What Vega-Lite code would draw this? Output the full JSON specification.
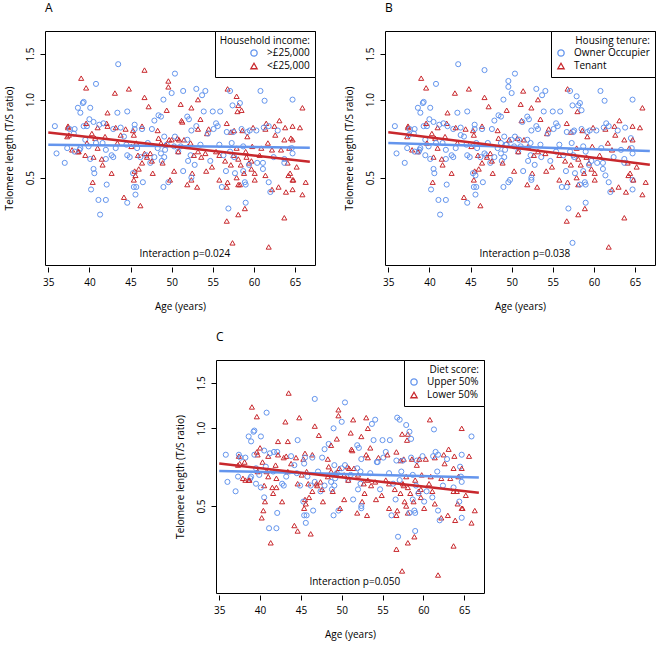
{
  "$schema": "https://vega.github.io/schema/vega-lite/v6.json",
  "background": "white",
  "padding": {"left": 4, "top": 1, "right": 2, "bottom": 3},
  "config": {
    "font": "Open Sans",
    "view": {"stroke": "black", "strokeWidth": 1},
    "axis": {"grid": false, "domain": false, "tickColor": "black", "labelColor": "black", "titleColor": "black", "labelFontSize": 10, "titleFontSize": 10, "titleFontWeight": "normal", "tickSize": 5},
    "axisX": {"offset": 2, "labelPadding": 5, "titlePadding": 14},
    "axisY": {"labelAngle": -90, "labelPadding": 4.5, "titlePadding": 11},
    "legend": {"orient": "top-right", "offset": 0, "padding": 5, "strokeColor": "black", "fillColor": "white", "cornerRadius": 0, "titleFontSize": 10, "titleFontWeight": "normal", "titleColor": "black", "labelColor": "black", "labelFontSize": 10, "titlePadding": 2, "rowPadding": 1, "symbolSize": 40, "symbolStrokeWidth": 1.3, "labelOffset": 8, "titleAnchor": "end"},
    "title": {"fontSize": 12, "fontWeight": "normal", "anchor": "start", "frame": "group", "offset": 16, "color": "black"}
  },
  "datasets": {
    "pts": [
      {"age":43.5,"tl":1.37,"income":">£25,000","tenure":"Owner Occupier","diet":"Lower 50%"},
      {"age":46.7,"tl":1.30,"income":"<£25,000","tenure":"Owner Occupier","diet":"Upper 50%"},
      {"age":50.4,"tl":1.26,"income":">£25,000","tenure":"Owner Occupier","diet":"Upper 50%"},
      {"age":39.0,"tl":1.21,"income":"<£25,000","tenure":"Tenant","diet":"Lower 50%"},
      {"age":49.6,"tl":1.18,"income":"<£25,000","tenure":"Owner Occupier","diet":"Lower 50%"},
      {"age":49.6,"tl":1.12,"income":"<£25,000","tenure":"Owner Occupier","diet":"Lower 50%"},
      {"age":39.6,"tl":1.11,"income":"<£25,000","tenure":"Tenant","diet":"Lower 50%"},
      {"age":40.8,"tl":1.15,"income":">£25,000","tenure":"Owner Occupier","diet":"Upper 50%"},
      {"age":44.8,"tl":1.10,"income":"<£25,000","tenure":"Tenant","diet":"Lower 50%"},
      {"age":56.8,"tl":1.10,"income":"<£25,000","tenure":"Tenant","diet":"Upper 50%"},
      {"age":51.4,"tl":1.08,"income":">£25,000","tenure":"Tenant","diet":"Lower 50%"},
      {"age":53.0,"tl":1.10,"income":">£25,000","tenure":"Owner Occupier","diet":"Lower 50%"},
      {"age":54.1,"tl":1.08,"income":">£25,000","tenure":"Owner Occupier","diet":"Upper 50%"},
      {"age":53.7,"tl":1.04,"income":">£25,000","tenure":"Owner Occupier","diet":"Upper 50%"},
      {"age":57.1,"tl":1.08,"income":">£25,000","tenure":"Owner Occupier","diet":"Upper 50%"},
      {"age":60.8,"tl":1.08,"income":">£25,000","tenure":"Owner Occupier","diet":"Lower 50%"},
      {"age":43.1,"tl":1.06,"income":"<£25,000","tenure":"Tenant","diet":"Lower 50%"},
      {"age":53.2,"tl":1.00,"income":"<£25,000","tenure":"Tenant","diet":"Lower 50%"},
      {"age":50.0,"tl":1.06,"income":">£25,000","tenure":"Owner Occupier","diet":"Upper 50%"},
      {"age":46.7,"tl":1.02,"income":"<£25,000","tenure":"Tenant","diet":"Lower 50%"},
      {"age":57.9,"tl":1.03,"income":"<£25,000","tenure":"Owner Occupier","diet":"Upper 50%"},
      {"age":61.3,"tl":0.99,"income":">£25,000","tenure":"Owner Occupier","diet":"Upper 50%"},
      {"age":64.7,"tl":1.00,"income":">£25,000","tenure":"Owner Occupier","diet":"Lower 50%"},
      {"age":49.0,"tl":1.00,"income":">£25,000","tenure":"Owner Occupier","diet":"Upper 50%"},
      {"age":47.2,"tl":0.94,"income":"<£25,000","tenure":"Tenant","diet":"Lower 50%"},
      {"age":51.1,"tl":0.96,"income":"<£25,000","tenure":"Tenant","diet":"Lower 50%"},
      {"age":58.1,"tl":0.95,"income":"<£25,000","tenure":"Owner Occupier","diet":"Lower 50%"},
      {"age":65.9,"tl":0.93,"income":"<£25,000","tenure":"Tenant","diet":"Upper 50%"},
      {"age":39.3,"tl":0.98,"income":">£25,000","tenure":"Owner Occupier","diet":"Upper 50%"},
      {"age":39.2,"tl":0.97,"income":">£25,000","tenure":"Owner Occupier","diet":"Upper 50%"},
      {"age":38.6,"tl":0.93,"income":">£25,000","tenure":"Owner Occupier","diet":"Upper 50%"},
      {"age":38.9,"tl":0.89,"income":">£25,000","tenure":"Owner Occupier","diet":"Upper 50%"},
      {"age":40.1,"tl":0.93,"income":">£25,000","tenure":"Owner Occupier","diet":"Upper 50%"},
      {"age":42.2,"tl":0.89,"income":"<£25,000","tenure":"Tenant","diet":"Lower 50%"},
      {"age":43.4,"tl":0.89,"income":">£25,000","tenure":"Owner Occupier","diet":"Lower 50%"},
      {"age":44.6,"tl":0.90,"income":">£25,000","tenure":"Owner Occupier","diet":"Upper 50%"},
      {"age":49.4,"tl":0.91,"income":"<£25,000","tenure":"Tenant","diet":"Lower 50%"},
      {"age":52.4,"tl":0.93,"income":"<£25,000","tenure":"Tenant","diet":"Lower 50%"},
      {"age":53.9,"tl":0.90,"income":">£25,000","tenure":"Owner Occupier","diet":"Upper 50%"},
      {"age":55.0,"tl":0.90,"income":">£25,000","tenure":"Owner Occupier","diet":"Upper 50%"},
      {"age":55.9,"tl":0.90,"income":">£25,000","tenure":"Owner Occupier","diet":"Upper 50%"},
      {"age":58.0,"tl":0.90,"income":"<£25,000","tenure":"Tenant","diet":"Lower 50%"},
      {"age":58.5,"tl":0.91,"income":"<£25,000","tenure":"Owner Occupier","diet":"Upper 50%"},
      {"age":57.4,"tl":0.95,"income":">£25,000","tenure":"Owner Occupier","diet":"Lower 50%"},
      {"age":58.3,"tl":0.97,"income":">£25,000","tenure":"Owner Occupier","diet":"Upper 50%"},
      {"age":53.5,"tl":0.84,"income":"<£25,000","tenure":"Tenant","diet":"Lower 50%"},
      {"age":48.4,"tl":0.87,"income":">£25,000","tenure":"Owner Occupier","diet":"Upper 50%"},
      {"age":48.7,"tl":0.86,"income":">£25,000","tenure":"Owner Occupier","diet":"Lower 50%"},
      {"age":40.0,"tl":0.84,"income":">£25,000","tenure":"Owner Occupier","diet":"Lower 50%"},
      {"age":40.5,"tl":0.82,"income":">£25,000","tenure":"Owner Occupier","diet":"Upper 50%"},
      {"age":39.7,"tl":0.79,"income":">£25,000","tenure":"Owner Occupier","diet":"Lower 50%"},
      {"age":39.3,"tl":0.79,"income":">£25,000","tenure":"Owner Occupier","diet":"Upper 50%"},
      {"age":39.6,"tl":0.81,"income":"<£25,000","tenure":"Tenant","diet":"Lower 50%"},
      {"age":41.0,"tl":0.78,"income":"<£25,000","tenure":"Tenant","diet":"Lower 50%"},
      {"age":42.1,"tl":0.81,"income":"<£25,000","tenure":"Tenant","diet":"Upper 50%"},
      {"age":42.2,"tl":0.79,"income":"<£25,000","tenure":"Owner Occupier","diet":"Lower 50%"},
      {"age":41.7,"tl":0.81,"income":">£25,000","tenure":"Owner Occupier","diet":"Upper 50%"},
      {"age":41.2,"tl":0.80,"income":">£25,000","tenure":"Owner Occupier","diet":"Upper 50%"},
      {"age":42.9,"tl":0.77,"income":">£25,000","tenure":"Owner Occupier","diet":"Lower 50%"},
      {"age":43.2,"tl":0.78,"income":"<£25,000","tenure":"Tenant","diet":"Lower 50%"},
      {"age":44.4,"tl":0.77,"income":"<£25,000","tenure":"Tenant","diet":"Lower 50%"},
      {"age":43.8,"tl":0.78,"income":">£25,000","tenure":"Owner Occupier","diet":"Upper 50%"},
      {"age":45.5,"tl":0.80,"income":">£25,000","tenure":"Owner Occupier","diet":"Lower 50%"},
      {"age":45.3,"tl":0.76,"income":"<£25,000","tenure":"Tenant","diet":"Lower 50%"},
      {"age":45.5,"tl":0.77,"income":">£25,000","tenure":"Owner Occupier","diet":"Upper 50%"},
      {"age":46.4,"tl":0.79,"income":"<£25,000","tenure":"Tenant","diet":"Lower 50%"},
      {"age":46.4,"tl":0.77,"income":">£25,000","tenure":"Owner Occupier","diet":"Upper 50%"},
      {"age":47.6,"tl":0.77,"income":">£25,000","tenure":"Owner Occupier","diet":"Upper 50%"},
      {"age":48.3,"tl":0.76,"income":"<£25,000","tenure":"Tenant","diet":"Lower 50%"},
      {"age":47.9,"tl":0.83,"income":">£25,000","tenure":"Owner Occupier","diet":"Upper 50%"},
      {"age":51.2,"tl":0.83,"income":"<£25,000","tenure":"Tenant","diet":"Lower 50%"},
      {"age":51.3,"tl":0.82,"income":"<£25,000","tenure":"Owner Occupier","diet":"Lower 50%"},
      {"age":51.9,"tl":0.86,"income":">£25,000","tenure":"Owner Occupier","diet":"Upper 50%"},
      {"age":52.1,"tl":0.84,"income":">£25,000","tenure":"Owner Occupier","diet":"Upper 50%"},
      {"age":52.4,"tl":0.76,"income":">£25,000","tenure":"Owner Occupier","diet":"Upper 50%"},
      {"age":53.0,"tl":0.79,"income":">£25,000","tenure":"Owner Occupier","diet":"Lower 50%"},
      {"age":54.5,"tl":0.77,"income":"<£25,000","tenure":"Tenant","diet":"Lower 50%"},
      {"age":53.2,"tl":0.77,"income":"<£25,000","tenure":"Owner Occupier","diet":"Lower 50%"},
      {"age":54.3,"tl":0.74,"income":"<£25,000","tenure":"Tenant","diet":"Upper 50%"},
      {"age":54.4,"tl":0.74,"income":">£25,000","tenure":"Owner Occupier","diet":"Upper 50%"},
      {"age":55.1,"tl":0.77,"income":">£25,000","tenure":"Owner Occupier","diet":"Upper 50%"},
      {"age":55.4,"tl":0.81,"income":">£25,000","tenure":"Owner Occupier","diet":"Upper 50%"},
      {"age":55.6,"tl":0.79,"income":">£25,000","tenure":"Owner Occupier","diet":"Lower 50%"},
      {"age":56.7,"tl":0.81,"income":"<£25,000","tenure":"Tenant","diet":"Lower 50%"},
      {"age":57.2,"tl":0.75,"income":"<£25,000","tenure":"Tenant","diet":"Lower 50%"},
      {"age":56.7,"tl":0.75,"income":">£25,000","tenure":"Owner Occupier","diet":"Upper 50%"},
      {"age":57.6,"tl":0.76,"income":"<£25,000","tenure":"Owner Occupier","diet":"Lower 50%"},
      {"age":57.5,"tl":0.75,"income":">£25,000","tenure":"Owner Occupier","diet":"Upper 50%"},
      {"age":58.5,"tl":0.77,"income":">£25,000","tenure":"Owner Occupier","diet":"Upper 50%"},
      {"age":58.6,"tl":0.76,"income":"<£25,000","tenure":"Tenant","diet":"Lower 50%"},
      {"age":59.2,"tl":0.75,"income":">£25,000","tenure":"Owner Occupier","diet":"Upper 50%"},
      {"age":59.2,"tl":0.72,"income":"<£25,000","tenure":"Tenant","diet":"Lower 50%"},
      {"age":59.9,"tl":0.78,"income":"<£25,000","tenure":"Tenant","diet":"Upper 50%"},
      {"age":60.3,"tl":0.76,"income":">£25,000","tenure":"Owner Occupier","diet":"Lower 50%"},
      {"age":61.4,"tl":0.77,"income":"<£25,000","tenure":"Tenant","diet":"Lower 50%"},
      {"age":61.5,"tl":0.81,"income":"<£25,000","tenure":"Owner Occupier","diet":"Upper 50%"},
      {"age":61.8,"tl":0.79,"income":">£25,000","tenure":"Owner Occupier","diet":"Upper 50%"},
      {"age":62.5,"tl":0.79,"income":"<£25,000","tenure":"Tenant","diet":"Lower 50%"},
      {"age":62.9,"tl":0.76,"income":">£25,000","tenure":"Owner Occupier","diet":"Upper 50%"},
      {"age":63.1,"tl":0.83,"income":"<£25,000","tenure":"Tenant","diet":"Lower 50%"},
      {"age":63.8,"tl":0.78,"income":"<£25,000","tenure":"Owner Occupier","diet":"Lower 50%"},
      {"age":64.7,"tl":0.79,"income":"<£25,000","tenure":"Tenant","diet":"Upper 50%"},
      {"age":65.6,"tl":0.78,"income":"<£25,000","tenure":"Tenant","diet":"Lower 50%"},
      {"age":61.2,"tl":0.78,"income":">£25,000","tenure":"Owner Occupier","diet":"Upper 50%"},
      {"age":59.5,"tl":0.76,"income":">£25,000","tenure":"Owner Occupier","diet":"Lower 50%"},
      {"age":35.8,"tl":0.79,"income":">£25,000","tenure":"Owner Occupier","diet":"Upper 50%"},
      {"age":37.4,"tl":0.79,"income":"<£25,000","tenure":"Tenant","diet":"Upper 50%"},
      {"age":37.4,"tl":0.78,"income":"<£25,000","tenure":"Tenant","diet":"Lower 50%"},
      {"age":37.6,"tl":0.77,"income":">£25,000","tenure":"Owner Occupier","diet":"Upper 50%"},
      {"age":37.3,"tl":0.72,"income":"<£25,000","tenure":"Tenant","diet":"Lower 50%"},
      {"age":37.5,"tl":0.73,"income":"<£25,000","tenure":"Owner Occupier","diet":"Lower 50%"},
      {"age":38.2,"tl":0.77,"income":">£25,000","tenure":"Owner Occupier","diet":"Upper 50%"},
      {"age":38.1,"tl":0.74,"income":">£25,000","tenure":"Owner Occupier","diet":"Lower 50%"},
      {"age":38.8,"tl":0.64,"income":">£25,000","tenure":"Owner Occupier","diet":"Upper 50%"},
      {"age":38.9,"tl":0.65,"income":">£25,000","tenure":"Owner Occupier","diet":"Upper 50%"},
      {"age":38.6,"tl":0.63,"income":"<£25,000","tenure":"Tenant","diet":"Lower 50%"},
      {"age":38.7,"tl":0.63,"income":"<£25,000","tenure":"Owner Occupier","diet":"Lower 50%"},
      {"age":39.5,"tl":0.70,"income":">£25,000","tenure":"Owner Occupier","diet":"Upper 50%"},
      {"age":39.7,"tl":0.68,"income":"<£25,000","tenure":"Tenant","diet":"Lower 50%"},
      {"age":40.3,"tl":0.74,"income":"<£25,000","tenure":"Tenant","diet":"Lower 50%"},
      {"age":39.9,"tl":0.66,"income":">£25,000","tenure":"Owner Occupier","diet":"Upper 50%"},
      {"age":40.7,"tl":0.71,"income":"<£25,000","tenure":"Tenant","diet":"Upper 50%"},
      {"age":40.8,"tl":0.68,"income":">£25,000","tenure":"Owner Occupier","diet":"Lower 50%"},
      {"age":41.0,"tl":0.65,"income":"<£25,000","tenure":"Tenant","diet":"Lower 50%"},
      {"age":40.5,"tl":0.60,"income":"<£25,000","tenure":"Tenant","diet":"Lower 50%"},
      {"age":39.5,"tl":0.61,"income":"<£25,000","tenure":"Owner Occupier","diet":"Upper 50%"},
      {"age":40.1,"tl":0.59,"income":">£25,000","tenure":"Owner Occupier","diet":"Upper 50%"},
      {"age":41.9,"tl":0.72,"income":"<£25,000","tenure":"Tenant","diet":"Lower 50%"},
      {"age":41.6,"tl":0.68,"income":">£25,000","tenure":"Owner Occupier","diet":"Upper 50%"},
      {"age":42.0,"tl":0.64,"income":">£25,000","tenure":"Owner Occupier","diet":"Lower 50%"},
      {"age":42.7,"tl":0.61,"income":">£25,000","tenure":"Owner Occupier","diet":"Upper 50%"},
      {"age":42.9,"tl":0.60,"income":">£25,000","tenure":"Owner Occupier","diet":"Upper 50%"},
      {"age":42.0,"tl":0.59,"income":">£25,000","tenure":"Owner Occupier","diet":"Lower 50%"},
      {"age":41.5,"tl":0.59,"income":"<£25,000","tenure":"Tenant","diet":"Lower 50%"},
      {"age":43.4,"tl":0.68,"income":"<£25,000","tenure":"Tenant","diet":"Lower 50%"},
      {"age":43.2,"tl":0.65,"income":">£25,000","tenure":"Owner Occupier","diet":"Upper 50%"},
      {"age":43.8,"tl":0.73,"income":"<£25,000","tenure":"Owner Occupier","diet":"Lower 50%"},
      {"age":44.2,"tl":0.72,"income":">£25,000","tenure":"Owner Occupier","diet":"Upper 50%"},
      {"age":44.5,"tl":0.67,"income":">£25,000","tenure":"Owner Occupier","diet":"Upper 50%"},
      {"age":44.6,"tl":0.61,"income":">£25,000","tenure":"Owner Occupier","diet":"Lower 50%"},
      {"age":44.9,"tl":0.60,"income":">£25,000","tenure":"Owner Occupier","diet":"Upper 50%"},
      {"age":45.1,"tl":0.66,"income":"<£25,000","tenure":"Tenant","diet":"Lower 50%"},
      {"age":45.4,"tl":0.73,"income":"<£25,000","tenure":"Tenant","diet":"Upper 50%"},
      {"age":45.7,"tl":0.68,"income":"<£25,000","tenure":"Owner Occupier","diet":"Lower 50%"},
      {"age":45.8,"tl":0.65,"income":">£25,000","tenure":"Owner Occupier","diet":"Upper 50%"},
      {"age":45.9,"tl":0.61,"income":"<£25,000","tenure":"Tenant","diet":"Lower 50%"},
      {"age":46.2,"tl":0.60,"income":">£25,000","tenure":"Owner Occupier","diet":"Upper 50%"},
      {"age":46.4,"tl":0.57,"income":"<£25,000","tenure":"Tenant","diet":"Lower 50%"},
      {"age":46.7,"tl":0.62,"income":"<£25,000","tenure":"Owner Occupier","diet":"Upper 50%"},
      {"age":46.9,"tl":0.61,"income":">£25,000","tenure":"Owner Occupier","diet":"Lower 50%"},
      {"age":47.0,"tl":0.60,"income":"<£25,000","tenure":"Tenant","diet":"Lower 50%"},
      {"age":47.1,"tl":0.68,"income":">£25,000","tenure":"Owner Occupier","diet":"Upper 50%"},
      {"age":47.4,"tl":0.62,"income":"<£25,000","tenure":"Tenant","diet":"Lower 50%"},
      {"age":47.4,"tl":0.57,"income":">£25,000","tenure":"Owner Occupier","diet":"Upper 50%"},
      {"age":47.6,"tl":0.58,"income":"<£25,000","tenure":"Tenant","diet":"Lower 50%"},
      {"age":47.9,"tl":0.60,"income":">£25,000","tenure":"Owner Occupier","diet":"Upper 50%"},
      {"age":48.3,"tl":0.65,"income":">£25,000","tenure":"Owner Occupier","diet":"Lower 50%"},
      {"age":48.4,"tl":0.71,"income":"<£25,000","tenure":"Tenant","diet":"Lower 50%"},
      {"age":48.7,"tl":0.68,"income":"<£25,000","tenure":"Owner Occupier","diet":"Lower 50%"},
      {"age":48.7,"tl":0.62,"income":">£25,000","tenure":"Owner Occupier","diet":"Upper 50%"},
      {"age":48.8,"tl":0.58,"income":">£25,000","tenure":"Owner Occupier","diet":"Upper 50%"},
      {"age":48.9,"tl":0.57,"income":"<£25,000","tenure":"Tenant","diet":"Lower 50%"},
      {"age":49.1,"tl":0.60,"income":">£25,000","tenure":"Owner Occupier","diet":"Upper 50%"},
      {"age":49.2,"tl":0.64,"income":">£25,000","tenure":"Owner Occupier","diet":"Upper 50%"},
      {"age":49.3,"tl":0.67,"income":"<£25,000","tenure":"Owner Occupier","diet":"Lower 50%"},
      {"age":49.4,"tl":0.67,"income":">£25,000","tenure":"Owner Occupier","diet":"Upper 50%"},
      {"age":49.1,"tl":0.72,"income":">£25,000","tenure":"Owner Occupier","diet":"Upper 50%"},
      {"age":49.7,"tl":0.70,"income":"<£25,000","tenure":"Tenant","diet":"Lower 50%"},
      {"age":50.0,"tl":0.70,"income":"<£25,000","tenure":"Owner Occupier","diet":"Upper 50%"},
      {"age":50.7,"tl":0.71,"income":"<£25,000","tenure":"Tenant","diet":"Lower 50%"},
      {"age":50.4,"tl":0.72,"income":">£25,000","tenure":"Owner Occupier","diet":"Upper 50%"},
      {"age":50.8,"tl":0.63,"income":">£25,000","tenure":"Owner Occupier","diet":"Upper 50%"},
      {"age":50.3,"tl":0.66,"income":">£25,000","tenure":"Owner Occupier","diet":"Lower 50%"},
      {"age":50.9,"tl":0.70,"income":"<£25,000","tenure":"Owner Occupier","diet":"Lower 50%"},
      {"age":51.1,"tl":0.66,"income":">£25,000","tenure":"Owner Occupier","diet":"Upper 50%"},
      {"age":50.8,"tl":0.63,"income":"<£25,000","tenure":"Tenant","diet":"Lower 50%"},
      {"age":51.5,"tl":0.70,"income":"<£25,000","tenure":"Tenant","diet":"Lower 50%"},
      {"age":51.9,"tl":0.70,"income":">£25,000","tenure":"Owner Occupier","diet":"Upper 50%"},
      {"age":52.0,"tl":0.66,"income":"<£25,000","tenure":"Tenant","diet":"Lower 50%"},
      {"age":52.3,"tl":0.68,"income":"<£25,000","tenure":"Owner Occupier","diet":"Upper 50%"},
      {"age":52.3,"tl":0.61,"income":">£25,000","tenure":"Owner Occupier","diet":"Upper 50%"},
      {"age":52.7,"tl":0.61,"income":"<£25,000","tenure":"Tenant","diet":"Lower 50%"},
      {"age":53.2,"tl":0.63,"income":"<£25,000","tenure":"Tenant","diet":"Lower 50%"},
      {"age":53.6,"tl":0.60,"income":"<£25,000","tenure":"Owner Occupier","diet":"Lower 50%"},
      {"age":53.5,"tl":0.67,"income":">£25,000","tenure":"Owner Occupier","diet":"Upper 50%"},
      {"age":54.1,"tl":0.62,"income":"<£25,000","tenure":"Tenant","diet":"Lower 50%"},
      {"age":54.7,"tl":0.58,"income":">£25,000","tenure":"Owner Occupier","diet":"Upper 50%"},
      {"age":54.9,"tl":0.55,"income":"<£25,000","tenure":"Tenant","diet":"Lower 50%"},
      {"age":55.8,"tl":0.67,"income":">£25,000","tenure":"Owner Occupier","diet":"Upper 50%"},
      {"age":55.4,"tl":0.63,"income":"<£25,000","tenure":"Owner Occupier","diet":"Lower 50%"},
      {"age":55.8,"tl":0.61,"income":"<£25,000","tenure":"Tenant","diet":"Lower 50%"},
      {"age":56.3,"tl":0.61,"income":">£25,000","tenure":"Owner Occupier","diet":"Upper 50%"},
      {"age":56.5,"tl":0.58,"income":"<£25,000","tenure":"Tenant","diet":"Lower 50%"},
      {"age":57.2,"tl":0.56,"income":"<£25,000","tenure":"Tenant","diet":"Lower 50%"},
      {"age":57.1,"tl":0.63,"income":">£25,000","tenure":"Owner Occupier","diet":"Upper 50%"},
      {"age":57.3,"tl":0.68,"income":">£25,000","tenure":"Owner Occupier","diet":"Upper 50%"},
      {"age":57.5,"tl":0.61,"income":"<£25,000","tenure":"Owner Occupier","diet":"Lower 50%"},
      {"age":57.9,"tl":0.65,"income":"<£25,000","tenure":"Tenant","diet":"Lower 50%"},
      {"age":57.6,"tl":0.60,"income":">£25,000","tenure":"Owner Occupier","diet":"Lower 50%"},
      {"age":58.1,"tl":0.59,"income":"<£25,000","tenure":"Tenant","diet":"Lower 50%"},
      {"age":58.4,"tl":0.56,"income":"<£25,000","tenure":"Tenant","diet":"Lower 50%"},
      {"age":58.7,"tl":0.53,"income":">£25,000","tenure":"Owner Occupier","diet":"Upper 50%"},
      {"age":59.0,"tl":0.63,"income":"<£25,000","tenure":"Owner Occupier","diet":"Lower 50%"},
      {"age":59.1,"tl":0.60,"income":"<£25,000","tenure":"Tenant","diet":"Upper 50%"},
      {"age":58.7,"tl":0.66,"income":">£25,000","tenure":"Owner Occupier","diet":"Upper 50%"},
      {"age":59.4,"tl":0.57,"income":"<£25,000","tenure":"Tenant","diet":"Lower 50%"},
      {"age":59.7,"tl":0.54,"income":"<£25,000","tenure":"Tenant","diet":"Lower 50%"},
      {"age":59.7,"tl":0.58,"income":"<£25,000","tenure":"Owner Occupier","diet":"Lower 50%"},
      {"age":59.4,"tl":0.56,"income":">£25,000","tenure":"Owner Occupier","diet":"Upper 50%"},
      {"age":59.8,"tl":0.66,"income":"<£25,000","tenure":"Tenant","diet":"Lower 50%"},
      {"age":60.4,"tl":0.57,"income":">£25,000","tenure":"Owner Occupier","diet":"Upper 50%"},
      {"age":60.7,"tl":0.61,"income":"<£25,000","tenure":"Tenant","diet":"Lower 50%"},
      {"age":60.9,"tl":0.65,"income":"<£25,000","tenure":"Owner Occupier","diet":"Lower 50%"},
      {"age":61.7,"tl":0.68,"income":"<£25,000","tenure":"Tenant","diet":"Upper 50%"},
      {"age":62.2,"tl":0.64,"income":"<£25,000","tenure":"Tenant","diet":"Lower 50%"},
      {"age":62.4,"tl":0.60,"income":">£25,000","tenure":"Owner Occupier","diet":"Upper 50%"},
      {"age":62.6,"tl":0.73,"income":"<£25,000","tenure":"Tenant","diet":"Lower 50%"},
      {"age":63.3,"tl":0.64,"income":"<£25,000","tenure":"Owner Occupier","diet":"Lower 50%"},
      {"age":63.7,"tl":0.70,"income":"<£25,000","tenure":"Tenant","diet":"Lower 50%"},
      {"age":64.3,"tl":0.65,"income":"<£25,000","tenure":"Tenant","diet":"Lower 50%"},
      {"age":64.5,"tl":0.71,"income":"<£25,000","tenure":"Owner Occupier","diet":"Upper 50%"},
      {"age":64.7,"tl":0.70,"income":"<£25,000","tenure":"Tenant","diet":"Lower 50%"},
      {"age":64.6,"tl":0.65,"income":">£25,000","tenure":"Owner Occupier","diet":"Upper 50%"},
      {"age":64.7,"tl":0.62,"income":">£25,000","tenure":"Owner Occupier","diet":"Upper 50%"},
      {"age":64.1,"tl":0.57,"income":"<£25,000","tenure":"Tenant","diet":"Lower 50%"},
      {"age":65.2,"tl":0.55,"income":"<£25,000","tenure":"Tenant","diet":"Lower 50%"},
      {"age":63.7,"tl":0.59,"income":">£25,000","tenure":"Owner Occupier","diet":"Upper 50%"},
      {"age":63.7,"tl":0.57,"income":">£25,000","tenure":"Owner Occupier","diet":"Lower 50%"},
      {"age":64.2,"tl":0.51,"income":"<£25,000","tenure":"Tenant","diet":"Lower 50%"},
      {"age":64.7,"tl":0.49,"income":"<£25,000","tenure":"Owner Occupier","diet":"Lower 50%"},
      {"age":64.4,"tl":0.52,"income":"<£25,000","tenure":"Tenant","diet":"Upper 50%"},
      {"age":40.4,"tl":0.48,"income":"<£25,000","tenure":"Tenant","diet":"Lower 50%"},
      {"age":41.6,"tl":0.56,"income":"<£25,000","tenure":"Tenant","diet":"Lower 50%"},
      {"age":40.5,"tl":0.54,"income":">£25,000","tenure":"Owner Occupier","diet":"Upper 50%"},
      {"age":40.6,"tl":0.52,"income":">£25,000","tenure":"Owner Occupier","diet":"Lower 50%"},
      {"age":42.7,"tl":0.52,"income":"<£25,000","tenure":"Tenant","diet":"Lower 50%"},
      {"age":42.1,"tl":0.47,"income":">£25,000","tenure":"Owner Occupier","diet":"Upper 50%"},
      {"age":40.2,"tl":0.45,"income":">£25,000","tenure":"Owner Occupier","diet":"Lower 50%"},
      {"age":41.1,"tl":0.41,"income":">£25,000","tenure":"Owner Occupier","diet":"Upper 50%"},
      {"age":42.0,"tl":0.41,"income":">£25,000","tenure":"Owner Occupier","diet":"Upper 50%"},
      {"age":41.3,"tl":0.36,"income":">£25,000","tenure":"Owner Occupier","diet":"Lower 50%"},
      {"age":44.2,"tl":0.42,"income":"<£25,000","tenure":"Tenant","diet":"Lower 50%"},
      {"age":44.6,"tl":0.40,"income":">£25,000","tenure":"Owner Occupier","diet":"Lower 50%"},
      {"age":46.2,"tl":0.39,"income":"<£25,000","tenure":"Tenant","diet":"Lower 50%"},
      {"age":45.4,"tl":0.46,"income":">£25,000","tenure":"Owner Occupier","diet":"Upper 50%"},
      {"age":45.6,"tl":0.43,"income":">£25,000","tenure":"Owner Occupier","diet":"Upper 50%"},
      {"age":45.7,"tl":0.46,"income":">£25,000","tenure":"Owner Occupier","diet":"Upper 50%"},
      {"age":45.4,"tl":0.49,"income":"<£25,000","tenure":"Tenant","diet":"Lower 50%"},
      {"age":45.5,"tl":0.53,"income":"<£25,000","tenure":"Tenant","diet":"Lower 50%"},
      {"age":45.3,"tl":0.52,"income":">£25,000","tenure":"Owner Occupier","diet":"Upper 50%"},
      {"age":46.5,"tl":0.48,"income":">£25,000","tenure":"Owner Occupier","diet":"Upper 50%"},
      {"age":45.6,"tl":0.51,"income":"<£25,000","tenure":"Owner Occupier","diet":"Lower 50%"},
      {"age":46.0,"tl":0.54,"income":"<£25,000","tenure":"Tenant","diet":"Lower 50%"},
      {"age":49.0,"tl":0.46,"income":">£25,000","tenure":"Owner Occupier","diet":"Upper 50%"},
      {"age":49.6,"tl":0.48,"income":">£25,000","tenure":"Owner Occupier","diet":"Upper 50%"},
      {"age":47.7,"tl":0.52,"income":"<£25,000","tenure":"Tenant","diet":"Lower 50%"},
      {"age":49.8,"tl":0.49,"income":"<£25,000","tenure":"Owner Occupier","diet":"Lower 50%"},
      {"age":50.3,"tl":0.53,"income":"<£25,000","tenure":"Tenant","diet":"Lower 50%"},
      {"age":51.4,"tl":0.53,"income":">£25,000","tenure":"Owner Occupier","diet":"Upper 50%"},
      {"age":51.9,"tl":0.47,"income":"<£25,000","tenure":"Tenant","diet":"Lower 50%"},
      {"age":52.5,"tl":0.52,"income":"<£25,000","tenure":"Tenant","diet":"Lower 50%"},
      {"age":52.4,"tl":0.49,"income":"<£25,000","tenure":"Owner Occupier","diet":"Upper 50%"},
      {"age":53.1,"tl":0.46,"income":"<£25,000","tenure":"Tenant","diet":"Lower 50%"},
      {"age":52.4,"tl":0.50,"income":">£25,000","tenure":"Owner Occupier","diet":"Upper 50%"},
      {"age":52.0,"tl":0.58,"income":">£25,000","tenure":"Owner Occupier","diet":"Upper 50%"},
      {"age":52.8,"tl":0.56,"income":">£25,000","tenure":"Owner Occupier","diet":"Lower 50%"},
      {"age":54.2,"tl":0.53,"income":"<£25,000","tenure":"Tenant","diet":"Lower 50%"},
      {"age":55.8,"tl":0.49,"income":"<£25,000","tenure":"Tenant","diet":"Lower 50%"},
      {"age":56.1,"tl":0.46,"income":">£25,000","tenure":"Owner Occupier","diet":"Upper 50%"},
      {"age":56.8,"tl":0.48,"income":"<£25,000","tenure":"Tenant","diet":"Lower 50%"},
      {"age":56.7,"tl":0.46,"income":"<£25,000","tenure":"Owner Occupier","diet":"Lower 50%"},
      {"age":56.6,"tl":0.53,"income":">£25,000","tenure":"Owner Occupier","diet":"Upper 50%"},
      {"age":57.9,"tl":0.50,"income":"<£25,000","tenure":"Tenant","diet":"Lower 50%"},
      {"age":58.1,"tl":0.47,"income":"<£25,000","tenure":"Tenant","diet":"Lower 50%"},
      {"age":58.3,"tl":0.47,"income":"<£25,000","tenure":"Owner Occupier","diet":"Upper 50%"},
      {"age":58.9,"tl":0.48,"income":">£25,000","tenure":"Owner Occupier","diet":"Upper 50%"},
      {"age":59.0,"tl":0.47,"income":">£25,000","tenure":"Owner Occupier","diet":"Upper 50%"},
      {"age":57.7,"tl":0.52,"income":">£25,000","tenure":"Owner Occupier","diet":"Lower 50%"},
      {"age":58.8,"tl":0.52,"income":"<£25,000","tenure":"Tenant","diet":"Lower 50%"},
      {"age":59.0,"tl":0.40,"income":">£25,000","tenure":"Owner Occupier","diet":"Upper 50%"},
      {"age":58.9,"tl":0.38,"income":"<£25,000","tenure":"Tenant","diet":"Lower 50%"},
      {"age":56.9,"tl":0.38,"income":">£25,000","tenure":"Owner Occupier","diet":"Upper 50%"},
      {"age":56.7,"tl":0.34,"income":"<£25,000","tenure":"Tenant","diet":"Lower 50%"},
      {"age":58.1,"tl":0.36,"income":"<£25,000","tenure":"Tenant","diet":"Lower 50%"},
      {"age":57.4,"tl":0.28,"income":"<£25,000","tenure":"Owner Occupier","diet":"Lower 50%"},
      {"age":60.1,"tl":0.49,"income":"<£25,000","tenure":"Tenant","diet":"Lower 50%"},
      {"age":61.1,"tl":0.54,"income":">£25,000","tenure":"Owner Occupier","diet":"Upper 50%"},
      {"age":61.1,"tl":0.57,"income":">£25,000","tenure":"Owner Occupier","diet":"Lower 50%"},
      {"age":60.1,"tl":0.52,"income":"<£25,000","tenure":"Tenant","diet":"Upper 50%"},
      {"age":61.4,"tl":0.51,"income":"<£25,000","tenure":"Owner Occupier","diet":"Lower 50%"},
      {"age":61.8,"tl":0.48,"income":">£25,000","tenure":"Owner Occupier","diet":"Upper 50%"},
      {"age":62.2,"tl":0.45,"income":"<£25,000","tenure":"Tenant","diet":"Lower 50%"},
      {"age":62.0,"tl":0.44,"income":">£25,000","tenure":"Owner Occupier","diet":"Upper 50%"},
      {"age":63.0,"tl":0.46,"income":"<£25,000","tenure":"Tenant","diet":"Lower 50%"},
      {"age":63.9,"tl":0.44,"income":"<£25,000","tenure":"Tenant","diet":"Lower 50%"},
      {"age":64.7,"tl":0.45,"income":"<£25,000","tenure":"Owner Occupier","diet":"Upper 50%"},
      {"age":64.8,"tl":0.49,"income":"<£25,000","tenure":"Tenant","diet":"Lower 50%"},
      {"age":63.7,"tl":0.35,"income":"<£25,000","tenure":"Tenant","diet":"Lower 50%"},
      {"age":65.9,"tl":0.43,"income":"<£25,000","tenure":"Tenant","diet":"Lower 50%"},
      {"age":66.3,"tl":0.48,"income":"<£25,000","tenure":"Tenant","diet":"Lower 50%"},
      {"age":61.8,"tl":0.27,"income":"<£25,000","tenure":"Tenant","diet":"Lower 50%"},
      {"age":36.0,"tl":0.62,"income":">£25,000","tenure":"Owner Occupier","diet":"Upper 50%"},
      {"age":37.0,"tl":0.57,"income":">£25,000","tenure":"Owner Occupier","diet":"Upper 50%"},
      {"age":37.3,"tl":0.65,"income":">£25,000","tenure":"Owner Occupier","diet":"Upper 50%"},
      {"age":37.9,"tl":0.64,"income":"<£25,000","tenure":"Tenant","diet":"Lower 50%"},
      {"age":38.2,"tl":0.63,"income":">£25,000","tenure":"Owner Occupier","diet":"Lower 50%"}
    ],
    "fitA": [
      {"age":35,"tl":0.670,"income":">£25,000"},{"age":66.8,"tl":0.652,"income":">£25,000"},
      {"age":35,"tl":0.746,"income":"<£25,000"},{"age":66.8,"tl":0.576,"income":"<£25,000"}
    ],
    "fitB": [
      {"age":35,"tl":0.680,"tenure":"Owner Occupier"},{"age":66.8,"tl":0.634,"tenure":"Owner Occupier"},
      {"age":35,"tl":0.748,"tenure":"Tenant"},{"age":66.8,"tl":0.561,"tenure":"Tenant"}
    ],
    "fitC": [
      {"age":35,"tl":0.684,"diet":"Upper 50%"},{"age":66.8,"tl":0.645,"diet":"Upper 50%"},
      {"age":35,"tl":0.730,"diet":"Lower 50%"},{"age":66.8,"tl":0.563,"diet":"Lower 50%"}
    ],
    "noteA": [{"age":51.6,"tl":0.253,"label":"Interaction p=0.024"}],
    "noteB": [{"age":51.6,"tl":0.253,"label":"Interaction p=0.038"}],
    "noteC": [{"age":51.6,"tl":0.253,"label":"Interaction p=0.050"}]
  },
  "resolve": {"scale": {"color": "independent", "shape": "independent"}, "legend": {"color": "independent", "shape": "independent"}},
  "center": true,
  "spacing": 18,
  "vconcat": [
    {
      "resolve": {"scale": {"color": "independent", "shape": "independent"}, "legend": {"color": "independent", "shape": "independent"}},
      "spacing": 28,
      "hconcat": [
        {
          "title": "A",
          "width": 270, "height": 234,
          "layer": [
            {
              "data": {"name": "pts"},
              "mark": {"type": "point", "filled": false, "size": 26, "strokeWidth": 1, "opacity": 1},
              "encoding": {
                "x": {"field": "age", "type": "quantitative", "scale": {"domain": [34.6, 67.43], "nice": false, "zero": false}, "axis": {"values": [35,40,45,50,55,60,65], "title": "Age (years)"}},
                "y": {"field": "tl", "type": "quantitative", "scale": {"type": "log", "domain": [0.23, 1.84], "nice": false}, "axis": {"values": [0.5,1.0,1.5], "format": ".1f", "title": "Telomere length (T/S ratio)"}},
                "color": {"field": "income", "type": "nominal", "scale": {"domain": [">£25,000","<£25,000"], "range": ["#6495ED","#C8282D"]}, "legend": {"title": "Household income:"}},
                "shape": {"field": "income", "type": "nominal", "scale": {"domain": [">£25,000","<£25,000"], "range": ["circle","triangle-up"]}, "legend": {"title": "Household income:"}}
              }
            },
            {
              "data": {"name": "fitA"},
              "mark": {"type": "line", "strokeWidth": 2.5},
              "encoding": {
                "x": {"field": "age", "type": "quantitative"},
                "y": {"field": "tl", "type": "quantitative"},
                "color": {"field": "income", "type": "nominal"}
              }
            },
            {
              "data": {"name": "noteA"},
              "mark": {"type": "text", "fontSize": 10, "color": "black"},
              "encoding": {
                "x": {"field": "age", "type": "quantitative"},
                "y": {"field": "tl", "type": "quantitative"},
                "text": {"field": "label"}
              }
            }
          ]
        },
        {
          "title": "B",
          "width": 270, "height": 234,
          "layer": [
            {
              "data": {"name": "pts"},
              "mark": {"type": "point", "filled": false, "size": 26, "strokeWidth": 1, "opacity": 1},
              "encoding": {
                "x": {"field": "age", "type": "quantitative", "scale": {"domain": [34.6, 67.43], "nice": false, "zero": false}, "axis": {"values": [35,40,45,50,55,60,65], "title": "Age (years)"}},
                "y": {"field": "tl", "type": "quantitative", "scale": {"type": "log", "domain": [0.23, 1.84], "nice": false}, "axis": {"values": [0.5,1.0,1.5], "format": ".1f", "title": "Telomere length (T/S ratio)"}},
                "color": {"field": "tenure", "type": "nominal", "scale": {"domain": ["Owner Occupier","Tenant"], "range": ["#6495ED","#C8282D"]}, "legend": {"title": "Housing tenure:"}},
                "shape": {"field": "tenure", "type": "nominal", "scale": {"domain": ["Owner Occupier","Tenant"], "range": ["circle","triangle-up"]}, "legend": {"title": "Housing tenure:"}}
              }
            },
            {
              "data": {"name": "fitB"},
              "mark": {"type": "line", "strokeWidth": 2.5},
              "encoding": {
                "x": {"field": "age", "type": "quantitative"},
                "y": {"field": "tl", "type": "quantitative"},
                "color": {"field": "tenure", "type": "nominal"}
              }
            },
            {
              "data": {"name": "noteB"},
              "mark": {"type": "text", "fontSize": 10, "color": "black"},
              "encoding": {
                "x": {"field": "age", "type": "quantitative"},
                "y": {"field": "tl", "type": "quantitative"},
                "text": {"field": "label"}
              }
            }
          ]
        }
      ]
    },
    {
      "title": "C",
      "width": 268, "height": 233,
      "layer": [
        {
          "data": {"name": "pts"},
          "mark": {"type": "point", "filled": false, "size": 26, "strokeWidth": 1, "opacity": 1},
          "encoding": {
            "x": {"field": "age", "type": "quantitative", "scale": {"domain": [34.6, 67.43], "nice": false, "zero": false}, "axis": {"values": [35,40,45,50,55,60,65], "title": "Age (years)"}},
            "y": {"field": "tl", "type": "quantitative", "scale": {"type": "log", "domain": [0.23, 1.84], "nice": false}, "axis": {"values": [0.5,1.0,1.5], "format": ".1f", "title": "Telomere length (T/S ratio)"}},
            "color": {"field": "diet", "type": "nominal", "scale": {"domain": ["Upper 50%","Lower 50%"], "range": ["#6495ED","#C8282D"]}, "legend": {"title": "Diet score:"}},
            "shape": {"field": "diet", "type": "nominal", "scale": {"domain": ["Upper 50%","Lower 50%"], "range": ["circle","triangle-up"]}, "legend": {"title": "Diet score:"}}
          }
        },
        {
          "data": {"name": "fitC"},
          "mark": {"type": "line", "strokeWidth": 2.5},
          "encoding": {
            "x": {"field": "age", "type": "quantitative"},
            "y": {"field": "tl", "type": "quantitative"},
            "color": {"field": "diet", "type": "nominal"}
          }
        },
        {
          "data": {"name": "noteC"},
          "mark": {"type": "text", "fontSize": 10, "color": "black"},
          "encoding": {
            "x": {"field": "age", "type": "quantitative"},
            "y": {"field": "tl", "type": "quantitative"},
            "text": {"field": "label"}
          }
        }
      ]
    }
  ]
}
